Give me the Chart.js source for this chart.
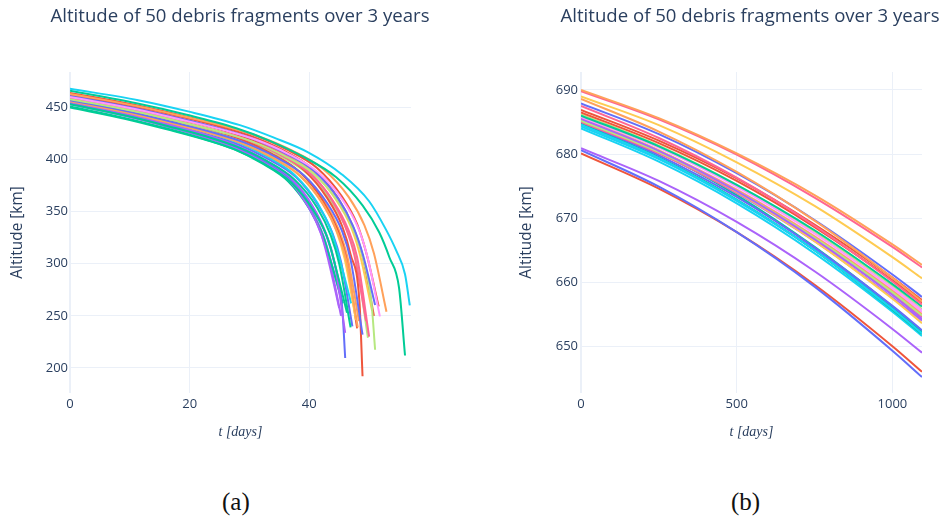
<!DOCTYPE html>
<html>
<head>
<meta charset="utf-8">
<title>Debris altitude</title>
<script src="https://cdn.jsdelivr.net/npm/chart.js@4.4.1/dist/chart.umd.min.js"></script>
<style>
  html, body { margin: 0; padding: 0; background: #fff; overflow: hidden; width: 945px; height: 522px; }
  .panel { position: absolute; top: 0; }
  #left { left: 0; }
  #right { left: 505px; }
  .cap { position: absolute; top: 488px; font-family: "Liberation Serif", serif; font-size: 25px; color: #111; }
</style>
</head>
<body>
<div class="panel" id="left"><canvas id="chartA" width="480" height="450"></canvas></div>
<div class="panel" id="right"><canvas id="chartB" width="490" height="450"></canvas></div>
<div class="cap" style="left:222px">(a)</div>
<div class="cap" style="left:731px">(b)</div>
<script>
// (a) fragments at ~450-470 km: each one has its own sample days
const leftDays = [
  [0, 11.4, 19.9, 28.4, 34.1, 39.8, 45.4, 50.0, 52.8, 54.5, 56.0, 56.8],
  [0, 11.1, 19.5, 27.8, 33.4, 38.9, 44.5, 48.9, 51.7, 53.4, 55.0, 56.0],
  [0, 10.6, 18.5, 26.5, 31.7, 37.0, 42.3, 46.6, 49.2, 50.8, 52.9],
  [0, 10.4, 18.1, 25.9, 31.1, 36.3, 41.4, 45.6, 48.2, 49.7, 51.8],
  [0, 10.3, 18.1, 25.8, 31.0, 36.1, 41.3, 45.4, 48.0, 49.5, 51.6],
  [0, 10.2, 17.9, 25.5, 30.6, 35.7, 40.8, 44.9, 47.4, 49.0, 51.0],
  [0, 10.2, 17.9, 25.5, 30.6, 35.7, 40.8, 44.9, 47.4, 49.0, 50.4, 51.0],
  [0, 10.0, 17.5, 25.0, 30.0, 35.0, 40.0, 44.0, 46.5, 48.0, 50.0],
  [0, 9.8, 17.1, 24.5, 29.3, 34.2, 39.1, 43.0, 45.5, 46.9, 48.9],
  [0, 9.8, 17.1, 24.5, 29.3, 34.2, 39.1, 43.0, 45.5, 46.9, 48.4, 48.9],
  [0, 9.6, 16.8, 24.1, 28.9, 33.7, 38.5, 42.3, 44.7, 46.2, 48.1],
  [0, 9.6, 16.7, 23.9, 28.7, 33.5, 38.2, 42.1, 44.5, 45.9, 47.8],
  [0, 9.6, 16.8, 24.0, 28.8, 33.6, 38.4, 42.2, 44.6, 46.1, 48.0],
  [0, 9.4, 16.4, 23.5, 28.1, 32.8, 37.5, 41.3, 43.6, 45.0, 46.9],
  [0, 9.3, 16.2, 23.2, 27.8, 32.4, 37.0, 40.7, 43.1, 44.4, 46.3],
  [0, 9.2, 16.1, 23.0, 27.6, 32.2, 36.8, 40.5, 42.8, 44.2, 46.0],
  [0, 9.2, 16.1, 23.0, 27.6, 32.2, 36.8, 40.5, 42.8, 44.2, 45.5, 46.0],
  [0, 9.0, 15.8, 22.5, 27.0, 31.5, 36.0, 39.6, 41.9, 43.2, 45.0],
  [0, 9.1, 16.0, 22.8, 27.4, 31.9, 36.5, 40.1, 42.4, 43.8, 45.6],
  [0, 9.4, 16.5, 23.5, 28.2, 32.9, 37.6, 41.4, 43.7, 45.1, 47.0],
  [0, 9.9, 17.3, 24.8, 29.7, 34.7, 39.6, 43.6, 46.0, 47.5, 49.5],
  [0, 9.1, 15.9, 22.8, 27.3, 31.9, 36.4, 40.0, 42.3, 43.7, 45.5],
  [0, 10.0, 17.4, 24.9, 29.9, 34.9, 39.8, 43.8, 46.3, 47.8, 49.8],
  [0, 9.7, 16.9, 24.2, 29.0, 33.8, 38.6, 42.5, 44.9, 46.4, 48.3],
  [0, 9.4, 16.5, 23.6, 28.3, 33.0, 37.8, 41.5, 43.9, 45.3, 47.2],
  [0, 10.1, 17.7, 25.3, 30.3, 35.4, 40.4, 44.4, 47.0, 48.5, 50.5],
  [0, 9.1, 15.9, 22.7, 27.2, 31.7, 36.2, 39.9, 42.1, 43.5, 45.3],
  [0, 10.2, 17.8, 25.4, 30.5, 35.6, 40.6, 44.7, 47.2, 48.8, 50.8]
];
const leftAlt = [
  [468, 457, 446, 433, 421, 407, 386, 360, 333, 313, 290, 260],
  [466, 454, 443, 430, 418, 403, 383, 356, 330, 306, 277, 212],
  [463, 452, 442, 431, 422, 409, 391, 364, 337, 310, 254],
  [460, 449, 439, 428, 419, 406, 388, 361, 334, 307, 249.5],
  [464, 453, 443, 432, 423, 410, 392, 365, 338, 311, 259],
  [461, 450, 440, 429, 420, 407, 389, 362, 335, 308, 260.5],
  [458, 447, 437, 426, 417, 404, 386, 359, 332, 305, 262, 217.5],
  [459, 448, 438, 427, 418, 405, 387, 360, 333, 306, 230],
  [457, 446, 436, 425, 416, 403, 385, 358, 331, 304, 232],
  [462, 451, 441, 430, 421, 408, 390, 363, 336, 309, 262, 192],
  [456, 445, 435, 424, 415, 402, 384, 357, 330, 303, 239],
  [458, 447, 437, 426, 417, 404, 386, 359, 332, 305, 246],
  [460, 449, 439, 428, 419, 406, 388, 361, 334, 307, 238],
  [453, 442, 432, 421, 412, 399, 381, 354, 327, 300, 239],
  [450, 439, 429, 418, 409, 396, 378, 351, 324, 297, 253],
  [455, 444, 434, 423, 414, 401, 383, 356, 329, 302, 233.6],
  [454, 443, 433, 422, 413, 400, 382, 355, 328, 301, 258, 209.6],
  [456, 445, 435, 424, 415, 402, 384, 357, 330, 303, 257.5],
  [451, 440, 430, 419, 410, 397, 379, 352, 325, 298, 262],
  [457, 446, 436, 425, 416, 403, 385, 358, 331, 304, 262],
  [462, 451, 441, 430, 421, 408, 390, 363, 336, 309, 245],
  [454, 443, 433, 422, 413, 400, 382, 355, 328, 301, 262],
  [458, 447, 437, 426, 417, 404, 386, 359, 332, 305, 229],
  [459, 448, 438, 427, 418, 405, 387, 360, 333, 306, 245],
  [455, 444, 434, 423, 414, 401, 383, 356, 329, 302, 240],
  [461, 450, 440, 429, 420, 407, 389, 362, 335, 308, 255],
  [453, 442, 432, 421, 412, 399, 381, 354, 327, 300, 250],
  [463, 452, 442, 431, 422, 409, 391, 364, 337, 310, 250]
];
const leftXTicks = [0, 20, 40];
const leftYTicks = [200, 250, 300, 350, 400, 450];

// (b) fragments at ~680-690 km, all sampled on the same days
const rightDays = [0, 250, 500, 750, 1000, 1095];
const rightAlt = [
  [690.0, 685.6, 680.1, 673.6, 665.9, 662.7],
  [689.8, 685.4, 679.9, 673.2, 665.5, 662.3],
  [689.0, 684.5, 678.7, 671.9, 663.9, 660.6],
  [688.6, 683.5, 677.2, 669.6, 660.7, 657.0],
  [687.9, 683.1, 677.0, 669.7, 661.2, 657.7],
  [687.5, 682.5, 676.3, 668.8, 660.1, 656.5],
  [686.9, 682.1, 676.2, 669.0, 660.7, 657.2],
  [686.5, 681.7, 675.8, 668.6, 660.3, 656.8],
  [686.0, 681.2, 675.2, 668.1, 659.7, 656.2],
  [685.8, 681.0, 674.9, 667.6, 659.1, 655.6],
  [685.5, 680.5, 674.2, 666.7, 658.0, 654.3],
  [685.7, 680.6, 674.1, 666.4, 657.4, 653.6],
  [685.2, 680.3, 674.2, 666.9, 658.4, 654.8],
  [685.0, 680.1, 674.0, 666.7, 658.2, 654.6],
  [685.2, 680.2, 673.9, 666.4, 657.6, 654.0],
  [685.0, 679.8, 673.3, 665.4, 656.3, 652.5],
  [684.6, 679.4, 672.8, 665.0, 655.8, 652.0],
  [684.8, 679.5, 672.9, 665.0, 655.7, 651.9],
  [684.0, 678.8, 672.3, 664.5, 655.4, 651.6],
  [685.4, 680.5, 674.4, 667.1, 658.6, 655.0],
  [685.3, 680.5, 674.5, 667.2, 658.8, 655.3],
  [685.6, 680.3, 673.6, 665.5, 656.2, 652.3],
  [680.9, 675.8, 669.4, 661.7, 652.7, 649.0],
  [680.6, 674.9, 667.8, 659.3, 649.3, 645.2],
  [680.1, 674.6, 667.8, 659.6, 650.0, 646.0],
  [684.3, 679.2, 672.7, 665.0, 656.0, 652.2],
  [686.2, 681.3, 675.2, 667.9, 659.4, 655.8]
];
const rightXTicks = [0, 500, 1000];
const rightYTicks = [650, 660, 670, 680, 690];

// plotly-ish trace colours, picked per fragment by index
const palette = ['#636EFA', '#EF553B', '#00CC96', '#AB63FA', '#FFA15A',
                 '#19D3F3', '#FF6692', '#B6E880', '#FF97FF', '#FECB52'];
const leftColors = [5, 2, 4, 8, 1, 0, 7, 6, 0, 1, 4, 9, 1, 2, 2, 3, 0, 3, 2, 5, 6, 3, 7, 4, 0, 9, 3, 1];
const rightColors = [4, 6, 9, 4, 0, 6, 1, 1, 2, 8, 3, 9, 7, 6, 3, 0, 5, 2, 5, 4, 8, 2, 3, 0, 1, 5, 7];

const ink = '#2a3f5f';
const gridColor = '#EBF0F8';

function buildSets(daysFor, alts, colorIdx) {
  return alts.map((h, i) => {
    const t = daysFor(i);
    return {
      data: h.map((v, k) => ({ x: t[k], y: v })),
      borderColor: palette[colorIdx[i]],
      borderWidth: 2,
      pointRadius: 0,
      fill: false,
      cubicInterpolationMode: 'monotone'
    };
  });
}

// fixed tick positions instead of chart.js's own step logic
const fixedTicks = list => axis => { axis.ticks = list.map(v => ({ value: v })); };

function drawPanel(id, datasets, xs, ys, pad) {
  return new Chart(document.getElementById(id), {
    type: 'line',
    data: { datasets: datasets },
    options: {
      responsive: false,
      animation: false,
      events: [],
      layout: { padding: 0 },
      plugins: {
        legend: { display: false },
        tooltip: { enabled: false },
        title: {
          display: true,
          text: 'Altitude of 50 debris fragments over 3 years',
          color: ink,
          font: { family: 'Open Sans', size: 18.6, weight: 'normal' },
          padding: { top: 5.8, bottom: 43.9 }
        }
      },
      scales: {
        x: {
          type: 'linear',
          min: xs.min, max: xs.max,
          border: { display: false },
          grid: {
            color: gridColor,
            lineWidth: c => (c.tick && c.tick.value === 0 ? 2 : 1),
            drawTicks: false
          },
          afterBuildTicks: fixedTicks(xs.ticks),
          ticks: {
            maxRotation: 0, autoSkip: false,
            color: ink, padding: 3,
            font: { family: 'Open Sans', size: 13 },
            callback: v => String(v)
          },
          title: {
            display: true, text: 't [days]', color: ink,
            font: { family: 'Liberation Serif', size: 14, style: 'italic' },
            padding: { top: 0, bottom: 9.6 }
          },
          afterFit: s => { s.height = 57; }
        },
        y: {
          type: 'linear',
          min: ys.min, max: ys.max,
          border: { display: false },
          grid: { color: gridColor, drawTicks: false },
          afterBuildTicks: fixedTicks(ys.ticks),
          ticks: {
            autoSkip: false,
            color: ink, padding: pad.tick,
            font: { family: 'Open Sans', size: 13 },
            callback: v => String(v)
          },
          title: {
            display: true, text: 'Altitude [km]', color: ink,
            font: { family: 'Open Sans', size: 15.4 },
            padding: { top: pad.title, bottom: 0 }
          },
          afterFit: s => { s.width = pad.axis; }
        },
        // empty strip on the right so the title centres over the whole panel
        side: {
          type: 'linear',
          position: 'right',
          grid: { display: false },
          border: { display: false },
          ticks: { display: false },
          afterFit: s => { s.width = pad.right; }
        }
      }
    }
  });
}

drawPanel('chartA',
  buildSets(i => leftDays[i], leftAlt, leftColors),
  { min: 0, max: 57, ticks: leftXTicks },
  { min: 176, max: 484, ticks: leftYTicks },
  { right: 69, axis: 70, tick: 2, title: 8.3 });

drawPanel('chartB',
  buildSets(() => rightDays, rightAlt, rightColors),
  { min: 0, max: 1095, ticks: rightXTicks },
  { min: 642.7, max: 692.8, ticks: rightYTicks },
  { right: 73, axis: 76, tick: 3, title: 12.8 });
</script>
</body>
</html>
